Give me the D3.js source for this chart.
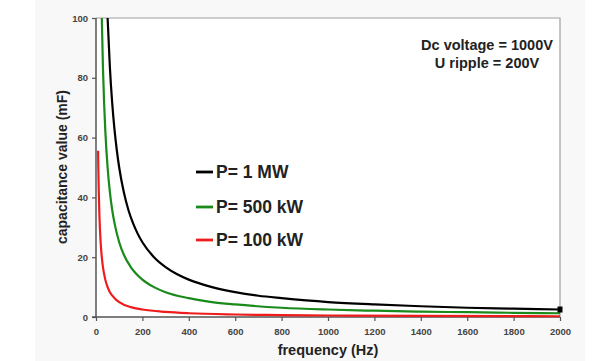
<!DOCTYPE html>
<html>
<head>
<meta charset="utf-8">
<script src="https://cdn.jsdelivr.net/npm/d3@7"></script>
<style>
	body { margin: 0; background: #fff; }
	text { font-family: Arial, "Liberation Sans", sans-serif; }
	.tick text { font-size: 9.5px; font-weight: bold; fill: #444; }
</style>
</head>
<body>
<svg id="chart" width="599" height="361"></svg>
<script>
	// data (mF against Hz)
	var freq1MW = [50, 60, 70, 80, 90, 100, 120, 140, 160, 180, 200, 250, 300, 350, 400, 500, 600, 700, 800, 1000, 1200, 1400, 1600, 1800, 2000];
	var cap1MW = [100, 83.3, 71.4, 62.5, 55.6, 50, 41.7, 35.7, 31.3, 27.8, 25, 20, 16.7, 14.3, 12.5, 10, 8.3, 7.1, 6.3, 5, 4.2, 3.6, 3.1, 2.8, 2.5];
	var freq500kW = [25, 30, 35, 40, 50, 60, 70, 80, 100, 120, 150, 200, 250, 300, 400, 500, 600, 800, 1000, 1200, 1400, 1600, 1800, 2000];
	var cap500kW = [100, 83.3, 71.4, 62.5, 50, 41.7, 35.7, 31.3, 25, 20.8, 16.7, 12.5, 10, 8.3, 6.3, 5, 4.2, 3.1, 2.5, 2.1, 1.8, 1.6, 1.4, 1.25];
	var freq100kW = [9, 10, 12, 15, 20, 25, 30, 40, 50, 60, 80, 100, 150, 200, 300, 400, 600, 800, 1000, 1400, 2000];
	var cap100kW = [55.6, 50, 41.7, 33.3, 25, 20, 16.7, 12.5, 10, 8.3, 6.3, 5, 3.3, 2.5, 1.7, 1.25, 0.83, 0.63, 0.5, 0.36, 0.25];
	var seriesNames = ["P= 1 MW", "P= 500 kW", "P= 100 kW"];
	var seriesColors = ["#000000", "#1a8a1a", "#ee1c1c"];
	var xTicks = [0, 200, 400, 600, 800, 1000, 1200, 1400, 1600, 1800, 2000];
	var yTicks = [0, 20, 40, 60, 80, 100];
	var notes = ["Dc voltage = 1000V", "U ripple = 200V"];

	var svg = d3.select("#chart");
	var plotL = 96, plotR = 560, plotT = 18, plotB = 317;

	// faint page background like the screenshot
	svg.append("rect").attr("x", 35).attr("y", 0).attr("width", 550).attr("height", 361).attr("fill", "#f8f8f8");
	svg.append("rect").attr("x", plotL).attr("y", plotT).attr("width", plotR - plotL).attr("height", plotB - plotT).attr("fill", "#fff");

	var x = d3.scaleLinear().domain([0, 2000]).range([plotL, plotR]);
	var y = d3.scaleLinear().domain([0, 100]).range([plotB, plotT]);

	// frame top / right
	svg.append("path").attr("d", "M" + plotL + "," + plotT + "H" + plotR + "V" + plotB)
		.attr("fill", "none").attr("stroke", "#a0a0a0").attr("stroke-width", 1.2);

	var xAxis = svg.append("g").attr("transform", "translate(0," + plotB + ")")
		.call(d3.axisBottom(x).tickValues(xTicks).tickFormat(d3.format("d")).tickSize(4).tickPadding(7));
	var yAxis = svg.append("g").attr("transform", "translate(" + plotL + ",0)")
		.call(d3.axisLeft(y).tickValues(yTicks).tickFormat(d3.format("d")).tickSize(4).tickPadding(4));
	[xAxis, yAxis].forEach(function (g) {
		g.select(".domain").attr("stroke", "#555").attr("stroke-width", 1.5);
		g.selectAll(".tick line").attr("stroke", "#555").attr("stroke-width", 1.2);
	});
	xAxis.select(".domain").attr("d", "M-4,0H" + (plotR - plotL)).attr("transform", "translate(" + plotL + ",0)");
	yAxis.select(".domain").attr("d", "M0," + plotT + "V" + plotB);

	var series = [
		{ f: freq1MW, c: cap1MW },
		{ f: freq500kW, c: cap500kW },
		{ f: freq100kW, c: cap100kW }
	];

	var line = d3.line()
		.x(function (d) { return x(d[0]); })
		.y(function (d) { return y(d[1]); })
		.curve(d3.curveMonotoneX);

	// draw red first so black sits on top
	series.slice().reverse().forEach(function (s, i) {
		var idx = series.length - 1 - i;
		svg.append("path")
			.datum(d3.zip(s.f, s.c))
			.attr("fill", "none")
			.attr("stroke", seriesColors[idx])
			.attr("stroke-width", 2.2)
			.attr("d", line);
	});

	// end marker on the 1 MW curve
	svg.append("rect")
		.attr("x", x(freq1MW[freq1MW.length - 1]) - 2.5)
		.attr("y", y(cap1MW[cap1MW.length - 1]) - 3)
		.attr("width", 5).attr("height", 6).attr("fill", "#000");

	// legend
	var legend = svg.append("g").selectAll("g")
		.data(seriesNames).enter().append("g")
		.attr("transform", function (d, i) { return "translate(196," + [172, 207, 240][i] + ")"; });
	legend.append("line")
		.attr("x1", 0).attr("x2", 17).attr("y1", 0).attr("y2", 0)
		.attr("stroke", function (d, i) { return seriesColors[i]; })
		.attr("stroke-width", 2.8);
	legend.append("text")
		.attr("x", 20).attr("y", 6)
		.attr("font-size", "17.5px").attr("font-weight", "bold").attr("fill", "#222")
		.text(function (d) { return d; });

	// notes
	svg.selectAll(".note").data(notes).enter().append("text")
		.attr("class", "note")
		.attr("x", 487).attr("y", function (d, i) { return 50 + 18 * i; })
		.attr("text-anchor", "middle")
		.attr("font-size", "14.5px").attr("font-weight", "bold").attr("fill", "#222")
		.text(function (d) { return d; });

	// axis titles
	svg.append("text")
		.attr("x", 328).attr("y", 355).attr("text-anchor", "middle")
		.attr("font-size", "14.5px").attr("font-weight", "bold").attr("fill", "#222")
		.text("frequency (Hz)");
	svg.append("text")
		.attr("transform", "translate(67,167) rotate(-90)").attr("text-anchor", "middle")
		.attr("font-size", "14px").attr("font-weight", "bold").attr("fill", "#222")
		.text("capacitance value (mF)");
</script>
</body>
</html>
